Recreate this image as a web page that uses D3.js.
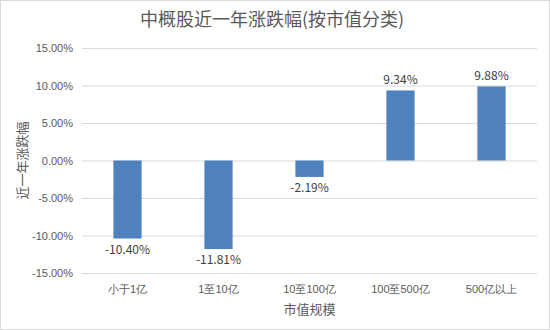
<!DOCTYPE html>
<html>
<head>
<meta charset="utf-8">
<script src="https://cdn.jsdelivr.net/npm/d3@7"></script>
<style>
  html, body { margin: 0; padding: 0; background: #fff; }
  svg { display: block; font-family: "Noto Sans CJK SC", "Noto Sans", sans-serif; }
</style>
</head>
<body>
<svg id="chart" width="550" height="330"></svg>
<script>
// Market-cap buckets and their one-year change (%)
const categories = ["小于1亿", "1至10亿", "10至100亿", "100至500亿", "500亿以上"];
const changes = [-10.40, -11.81, -2.19, 9.34, 9.88];
const yTicks = [15, 10, 5, 0, -5, -10, -15];

const titleText = "中概股近一年涨跌幅(按市值分类)";
const xTitle = "市值规模";
const yTitle = "近一年涨跌幅";

const svg = d3.select("#chart");
const W = 550, H = 330;
const plot = { left: 82, right: 537, top: 48, bottom: 273 };

// chart frame
svg.append("rect")
  .attr("x", 0.5).attr("y", 0.5)
  .attr("width", W - 1).attr("height", H - 1)
  .attr("fill", "#fff").attr("stroke", "#d9d9d9");

const x = d3.scaleBand().domain(categories)
  .range([plot.left, plot.right]).paddingInner(0.69).paddingOuter(0.345);
const y = d3.scaleLinear().domain([-15, 15]).range([plot.bottom, plot.top]);

// gridlines + y labels
const yAxis = d3.axisLeft(y).tickValues(yTicks)
  .tickSize(-(plot.right - plot.left))
  .tickFormat(d => d.toFixed(2) + "%");
const gy = svg.append("g").attr("transform", `translate(${plot.left},0)`).call(yAxis);
gy.select(".domain").remove();
gy.selectAll(".tick line").attr("stroke", "#d9d9d9").attr("stroke-width", 1);
gy.selectAll(".tick text")
  .attr("x", -9).attr("fill", "#595959")
  .style("font-size", "11px");

// bars
svg.append("g").selectAll("rect").data(changes).join("rect")
  .attr("x", (d, i) => x(categories[i]))
  .attr("width", x.bandwidth())
  .attr("y", d => Math.min(y(d), y(0)))
  .attr("height", d => Math.abs(y(d) - y(0)))
  .attr("fill", "#4f81bd");

// value labels
svg.append("g").selectAll("text").data(changes).join("text")
  .attr("x", (d, i) => x(categories[i]) + x.bandwidth() / 2)
  .attr("y", d => d < 0 ? y(d) + 15 : y(d) - 6)
  .attr("text-anchor", "middle")
  .attr("fill", "#404040")
  .style("font-size", "12px")
  .text(d => d.toFixed(2) + "%");

// category labels
const xAxis = d3.axisBottom(x).tickSize(0);
const gx = svg.append("g").attr("transform", `translate(0,${plot.bottom})`).call(xAxis);
gx.select(".domain").remove();
gx.selectAll(".tick text")
  .attr("y", 12).attr("fill", "#595959")
  .style("font-size", "11px");

// titles
svg.append("text")
  .attr("x", 272).attr("y", 26)
  .attr("text-anchor", "middle")
  .attr("fill", "#595959")
  .style("font-size", "18px")
  .text(titleText);

svg.append("text")
  .attr("x", (plot.left + plot.right) / 2).attr("y", 314)
  .attr("text-anchor", "middle")
  .attr("fill", "#595959")
  .style("font-size", "13px")
  .text(xTitle);

svg.append("text")
  .attr("transform", `translate(27,${(plot.top + plot.bottom) / 2}) rotate(-90)`)
  .attr("text-anchor", "middle")
  .attr("fill", "#595959")
  .style("font-size", "13px")
  .text(yTitle);
</script>
</body>
</html>
